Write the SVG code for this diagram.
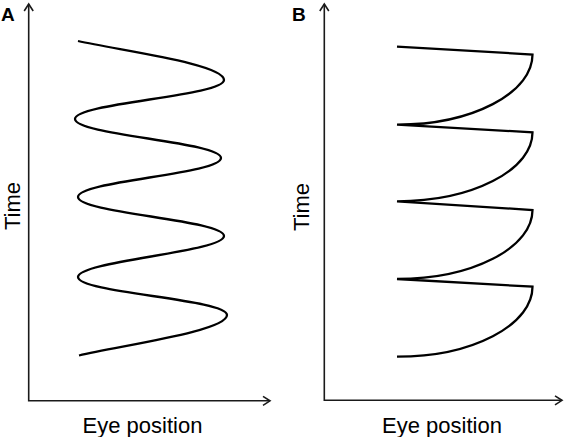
<svg xmlns="http://www.w3.org/2000/svg" width="568" height="437" viewBox="0 0 568 437">
  <style>
    .axis { fill: none; stroke: #1a1a1a; stroke-width: 1.6; marker-start: url(#arr); marker-end: url(#arr); }
    .curve { fill: none; stroke: #000; stroke-width: 2.3; stroke-linejoin: miter; stroke-linecap: butt; }
    .lab { font-family: "Liberation Sans", Arial, sans-serif; font-size: 22px; fill: #000; }
    .panel { font-family: "Liberation Sans", Arial, sans-serif; font-size: 19px; font-weight: bold; fill: #000; }
  </style>
  <defs>
    <marker id="arr" markerWidth="12" markerHeight="12" refX="10" refY="6" orient="auto-start-reverse" markerUnits="userSpaceOnUse" viewBox="0 0 12 12">
      <path d="M3,1.5 L10,6 L3,10.5" fill="none" stroke="#1a1a1a" stroke-width="1.6"/>
    </marker>
  </defs>
  <rect width="568" height="437" fill="#fff"/>

  <g id="panel-a">
    <text class="panel" x="1" y="21">A</text>
    <path id="axes-a" class="axis" d="M28.7,4 L28.7,400.8 L270,400.8"/>
    <text class="lab" transform="translate(20,206) rotate(-90)" text-anchor="middle">Time</text>
    <text class="lab" x="142.5" y="433" text-anchor="middle">Eye position</text>
    <path id="curve-a" class="curve" d="M78,41 C123,51 224,64 224,80 C224,96 75,103 75,119 C75,135 221,142 221,158 C221,174 78,181 78,197 C78,213 224,220 224,236 C224,252 78,261 78,277 C78,293 227,299 227,315 C227,331 124,345 79,355.5"/>
  </g>

  <g id="panel-b">
    <text class="panel" x="292" y="21">B</text>
    <path id="axes-b" class="axis" d="M324.3,4 L324.3,400.3 L562,400.3"/>
    <text class="lab" transform="translate(309,207) rotate(-90)" text-anchor="middle">Time</text>
    <text class="lab" x="442" y="433" text-anchor="middle">Eye position</text>
    <path id="curve-b" class="curve" d="M397,46.7 L532.5,54.5 A135.5,70.2 0 0 1 397,124.7 L532.5,132.3 A135.5,69 0 0 1 397,201.3 L532.5,210 A135.5,69 0 0 1 397,279 L532.5,286.7 A135.5,70 0 0 1 397,356.7"/>
  </g>
</svg>
